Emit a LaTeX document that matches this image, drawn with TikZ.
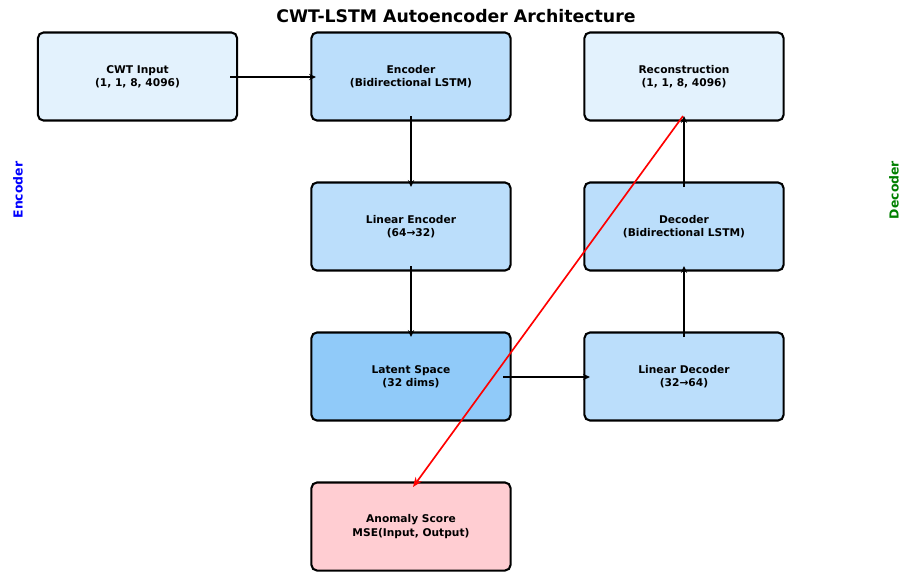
\documentclass[tikz,border=0pt]{standalone}
\usepackage{fontspec}
\setmainfont{DejaVu Sans}
\usetikzlibrary{arrows.meta}
\definecolor{bA}{HTML}{E3F2FD}
\definecolor{bB}{HTML}{BBDEFB}
\definecolor{bC}{HTML}{90CAF9}
\definecolor{rA}{HTML}{FFCDD2}
\definecolor{dgreen}{HTML}{008000}
\begin{document}
\begin{tikzpicture}[x=0.01in,y=-0.01in,
  box/.style={draw=black, line width=1.5pt, rounded corners=4pt, minimum width=1.99in, minimum height=0.88in, inner sep=0pt, align=center, font=\fontsize{7.7}{9.5}\selectfont\bfseries},
  arr/.style={line width=1.2pt, -{Stealth[length=5pt,width=4.5pt]}},
  redarr/.style={line width=1.2pt, red, -{Stealth[length=7pt,width=5.5pt]}}]
\useasboundingbox (0,0) rectangle (900,571);
\node[font=\fontsize{12.5}{14}\selectfont\bfseries] (title) at (456,16) {CWT-LSTM Autoencoder Architecture};
\node[box, fill=bA] (cwt) at (137.5,76.5) {CWT Input\\(1, 1, 8, 4096)};
\node[box, fill=bB] (enc) at (411,76.5) {Encoder\\(Bidirectional LSTM)};
\node[box, fill=bA] (rec) at (684,76.5) {Reconstruction\\(1, 1, 8, 4096)};
\node[box, fill=bB] (lenc) at (411,226.5) {Linear Encoder\\(64→32)};
\node[box, fill=bB] (dec) at (684,226.5) {Decoder\\(Bidirectional LSTM)};
\node[box, fill=bC] (lat) at (411,376.5) {Latent Space\\(32 dims)};
\node[box, fill=bB] (ldec) at (684,376.5) {Linear Decoder\\(32→64)};
\node[box, fill=rA] (anom) at (411,526.5) {Anomaly Score\\MSE(Input, Output)};
\node[rotate=90, text=blue, font=\fontsize{9}{10}\selectfont\bfseries] (encl) at (18,190) {Encoder};
\node[rotate=90, text=dgreen, font=\fontsize{9}{10}\selectfont\bfseries] (decl) at (894,190) {Decoder};
\coordinate (a1) at (230,77); \coordinate (a2) at (316,77);
\draw[arr] (a1) -- (a2);
\coordinate (b1) at (411,116); \coordinate (b2) at (411,187);
\draw[arr] (b1) -- (b2);
\coordinate (c1) at (411,266); \coordinate (c2) at (411,337);
\draw[arr] (c1) -- (c2);
\coordinate (d1) at (503,377); \coordinate (d2) at (590,377);
\draw[arr] (d1) -- (d2);
\coordinate (e1) at (684,337); \coordinate (e2) at (684,266);
\draw[arr] (e1) -- (e2);
\coordinate (f1) at (684,187); \coordinate (f2) at (684,116);
\draw[arr] (f1) -- (f2);
\coordinate (g1) at (683,116); \coordinate (g2) at (413,487);
\draw[redarr] (g1) -- (g2);
\end{tikzpicture}
\end{document}
